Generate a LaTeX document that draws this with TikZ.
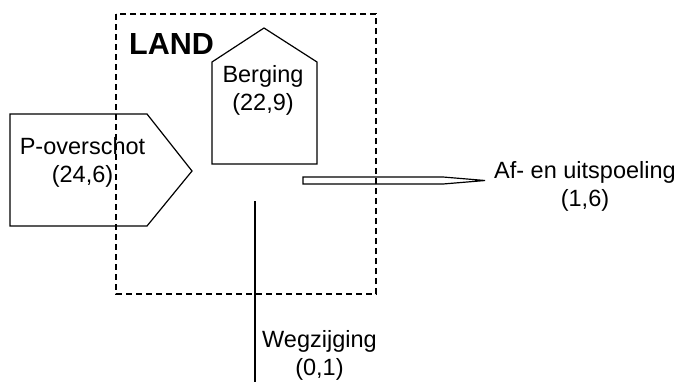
\documentclass[tikz,border=0pt]{standalone}
\usepackage{fontspec}
\setmainfont{Liberation Sans}
\begin{document}
\begin{tikzpicture}[x=1pt,y=-1pt,
  lbl/.style={font=\fontsize{23.5}{28}\selectfont, align=center, inner sep=0pt},
  outl/.style={draw=black, line width=1.2pt, line join=miter},
  landbox/.style={draw=black, line width=1.5pt, dash pattern=on 6pt off 4pt}]
\useasboundingbox (0,0) rectangle (681,383);
% land box
\draw[landbox] (116,14) rectangle (376,294);
\node[font=\fontsize{30.5}{30}\selectfont\bfseries, anchor=base west, inner sep=0pt] (land) at (129,54) {LAND};
% P-overschot pentagon
\draw[outl] (10,114) -- (147,114) -- (192,171) -- (147,226) -- (10,226) -- cycle;
\node[lbl] (pov) at (82.5,162) {P-overschot\\(24,6)};
% Berging house
\draw[outl] (212,164) -- (212,62) -- (264,28) -- (317,62) -- (317,164) -- cycle;
\node[lbl] (berg) at (263,90.5) {Berging\\(22,9)};
% Af- en uitspoeling thin arrow
\draw[outl] (303,177) -- (443,177) -- (485,180.5) -- (443,184) -- (303,184) -- cycle;
\node[lbl, anchor=west] (af) at (494,186) {Af- en uitspoeling\\(1,6)};
% Wegzijging line
\coordinate (wtop) at (255,201);
\coordinate (wbot) at (255,382);
\draw[line width=2pt] (wtop) -- (wbot);
\node[lbl, anchor=west] (weg) at (262,355) {Wegzijging\\(0,1)};
\end{tikzpicture}
\end{document}
